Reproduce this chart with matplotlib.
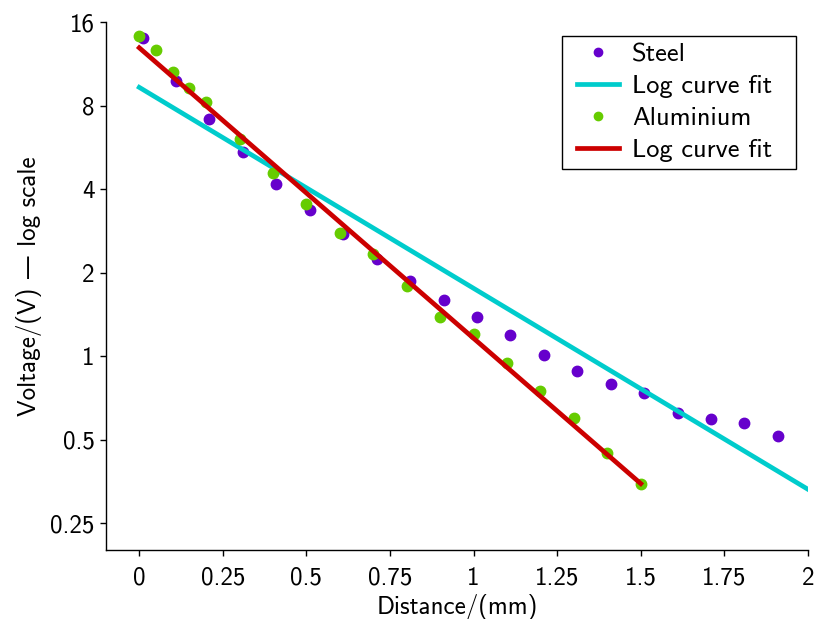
import matplotlib
matplotlib.use("Agg")
import matplotlib.pyplot as plt
from matplotlib.path import Path
from matplotlib.ticker import FixedLocator, FixedFormatter, NullLocator

plt.rcParams['font.family'] = ['cmss10', 'DejaVu Sans']
plt.rcParams['axes.unicode_minus'] = False

steel_x = [0.01, 0.11, 0.21, 0.31, 0.41, 0.51, 0.61, 0.71, 0.81, 0.91,
           1.01, 1.11, 1.21, 1.31, 1.41, 1.51, 1.61, 1.71, 1.81, 1.91]
steel_y = [14.09, 9.85, 7.18, 5.47, 4.18, 3.38, 2.75, 2.24, 1.865, 1.60,
           1.38, 1.19, 1.014, 0.883, 0.794, 0.735, 0.624, 0.595, 0.574, 0.515]
steel_fit_x = [0.0, 2.0]
steel_fit_y = [9.33, 0.331]

alu_x = [0.0, 0.05, 0.1, 0.15, 0.2, 0.3, 0.4, 0.5, 0.6, 0.7, 0.8, 0.9,
         1.0, 1.1, 1.2, 1.3, 1.4, 1.5]
alu_y = [14.32, 12.68, 10.56, 9.25, 8.23, 6.05, 4.58, 3.54, 2.79, 2.33,
         1.785, 1.39, 1.20, 0.946, 0.747, 0.598, 0.446, 0.347]
alu_fit_x = [0.0, 1.5]
alu_fit_y = [12.96, 0.347]

x_ticks = [0, 0.25, 0.5, 0.75, 1, 1.25, 1.5, 1.75, 2]
x_labels = ['0', '0.25', '0.5', '0.75', '1', '1.25', '1.5', '1.75', '2']
y_ticks = [0.25, 0.5, 1, 2, 4, 8, 16]
y_labels = ['0.25', '0.5', '1', '2', '4', '8', '16']

fig = plt.figure(figsize=(8.14, 6.19), dpi=100)
ax = fig.add_axes([0.13, 0.1115, 0.8626, 0.8523])

ax.plot(steel_x, steel_y, 'o', color='#6600cc', markersize=7.5, label='Steel')
ax.plot(steel_fit_x, steel_fit_y, '-', color='#00cccc', linewidth=3.4, label='Log curve fit')
ax.plot(alu_x, alu_y, 'o', color='#66cc00', markersize=7.5, label='Aluminium')
ax.plot(alu_fit_x, alu_fit_y, '-', color='#cc0000', linewidth=3.4, label='Log curve fit')

ax.set_yscale('log', base=2)
ax.set_xlim(-0.1, 2.0)
ax.set_ylim(0.2, 16)
ax.xaxis.set_major_locator(FixedLocator(x_ticks))
ax.xaxis.set_major_formatter(FixedFormatter(x_labels))
ax.yaxis.set_major_locator(FixedLocator(y_ticks))
ax.yaxis.set_major_formatter(FixedFormatter(y_labels))
ax.xaxis.set_minor_locator(NullLocator())
ax.yaxis.set_minor_locator(NullLocator())

for s in ['top', 'right']:
    ax.spines[s].set_visible(False)
for s in ['left', 'bottom']:
    ax.spines[s].set_linewidth(1.0)
ax.tick_params(direction='out', length=4, width=1, labelsize=18)
ax.tick_params(axis='x', pad=8)
ax.tick_params(axis='y', pad=4)

ax.set_xlabel('Distance/(mm)', fontsize=18, labelpad=3)
ax.set_ylabel('Voltage/(V) — log scale', fontsize=18, labelpad=6)

EXTRA_L, EXTRA_R = 8.2, 17.2


def wide_box(x0, y0, width, height, mutation_size):
    l = x0 - EXTRA_L
    r = x0 + width + EXTRA_R
    t = y0 + height
    return Path([(l, y0), (r, y0), (r, t), (l, t), (l, y0)],
                [Path.MOVETO, Path.LINETO, Path.LINETO, Path.LINETO, Path.CLOSEPOLY])


anchor_x = (796 - EXTRA_R - 105.7) / (0.8626 * 814)
leg = ax.legend(loc='upper right', fontsize=19, frameon=True, fancybox=False,
                edgecolor='black', framealpha=1, borderpad=0.25, borderaxespad=0,
                handlelength=1.6, handletextpad=0.5, labelspacing=0.32,
                markerscale=0.8, bbox_to_anchor=(anchor_x, 0.974))
leg.get_frame().set_linewidth(1.0)
leg.get_frame().set_boxstyle(wide_box)

fig.savefig('out.png', dpi=100)
